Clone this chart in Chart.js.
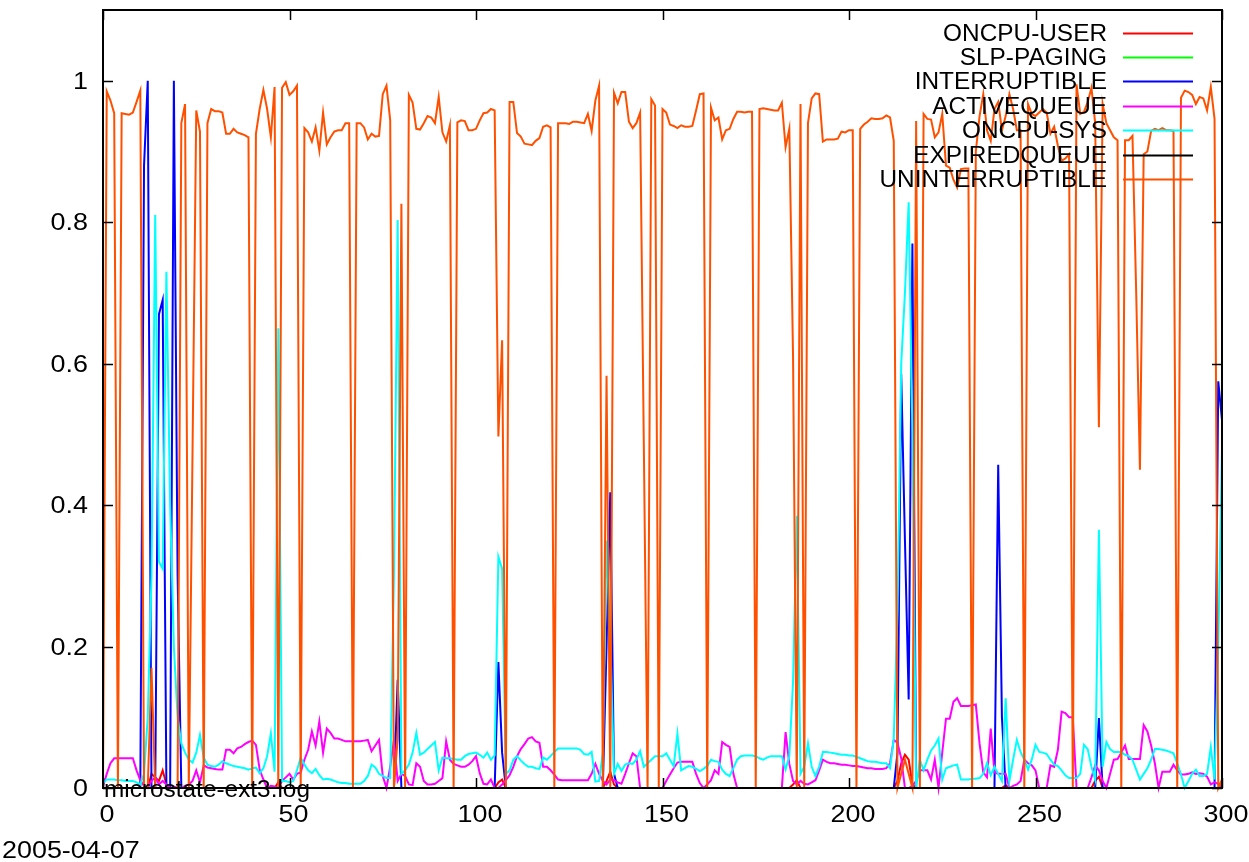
<!DOCTYPE html>
<html>
<head>
<meta charset="utf-8">
<script src="https://cdn.jsdelivr.net/npm/chart.js@4.4.1/dist/chart.umd.min.js"></script>
<style>
html,body{margin:0;padding:0;background:#fff;}
canvas{display:block;}
</style>
</head>
<body>
<canvas id="c" width="1249" height="862"></canvas>
<script>
// ---- data ----
const samples = Array.from({length: 301}, (_, i) => i);
const xTicks = [0, 50, 100, 150, 200, 250, 300];
const yTicks = [0, 0.2, 0.4, 0.6, 0.8, 1];
const yTickLabels = ['0', '0.2', '0.4', '0.6', '0.8', '1'];
const seriesNames = ['ONCPU-USER', 'SLP-PAGING', 'INTERRUPTIBLE', 'ACTIVEQUEUE', 'ONCPU-SYS', 'EXPIREDQUEUE', 'UNINTERRUPTIBLE'];
const seriesColors = ['#ff0000', '#00ff00', '#0000ff', '#ff00ff', '#00ffff', '#000000', '#ff5000'];
const fileLabel = 'microstate-ext3.log';
const dateLabel = '2005-04-07';

const oncpuUser = [
0,0,0,0,0,0,0,0,0,0,0,0,0,0.02,0.015,0.01,0.025,0.005,0,0,
0,0,0,0,0,0,0,0,0,0,0,0,0,0,0,0,0,0,0,0,
0,0,0,0,0,0,0,0.008,0,0,0,0,0,0,0,0,0,0,0,0,
0,0,0,0,0,0,0,0,0,0,0,0,0,0,0,0,0,0,0,0,
0,0,0,0,0,0,0,0,0,0,0,0,0,0,0,0,0,0,0,0,
0,0,0,0,0,0,0.008,0.012,0,0,0,0,0,0,0,0,0,0,0,0,
0,0,0,0,0,0,0,0,0,0,0,0,0,0,0,0.01,0.023,0.005,0,0,
0,0,0,0,0,0,0,0,0,0,0,0,0,0,0,0,0,0,0,0,
0,0,0,0,0,0,0,0,0,0,0,0,0,0,0,0,0,0,0,0,
0,0,0,0,0,0.005,0.011,0,0,0,0,0,0,0,0,0,0,0,0,0,
0,0,0,0,0,0,0,0,0,0,0,0,0,0.01,0.035,0.047,0.04,0.005,0,0,
0,0,0,0,0,0,0,0,0,0,0,0,0,0,0,0,0,0,0,0,
0,0,0.004,0,0,0,0,0,0,0,0,0,0,0,0,0,0,0,0,0,
0,0,0,0,0,0,0.01,0.016,0,0,0,0,0,0,0,0,0,0,0,0,
0,0,0,0,0,0,0,0,0,0,0,0,0,0,0,0,0,0,0,0,
0.01];

const slpPaging = [
0,0,0,0,0,0,0,0,0,0,0,0,0,0,0,0,0,0,0,0,
0,0,0,0,0,0,0,0,0,0,0,0,0,0,0,0,0,0,0,0,
0,0,0,0,0,0,0,0,0,0,0,0,0,0,0,0,0,0,0,0,
0,0,0,0,0,0,0,0,0,0,0,0,0,0,0,0,0,0,0,0,
0,0,0,0,0,0,0,0,0,0,0,0,0,0,0,0,0,0,0,0,
0,0,0,0,0,0,0,0,0,0,0,0,0,0,0,0,0,0,0,0,
0,0,0,0,0,0,0,0,0,0,0,0,0,0,0,0,0,0,0,0,
0,0,0,0,0,0,0,0,0,0,0,0,0,0,0,0,0,0,0,0,
0,0,0,0,0,0,0,0,0,0,0,0,0,0,0,0,0,0,0,0,
0,0,0,0,0,0,0,0,0,0,0,0,0,0,0,0,0,0,0,0,
0,0,0,0,0,0,0,0,0,0,0,0,0,0,0,0,0,0,0,0,
0,0,0,0,0,0,0,0,0,0,0,0,0,0,0,0,0,0,0,0,
0,0,0,0,0,0,0,0,0,0,0,0,0,0,0,0,0,0,0,0,
0,0,0,0,0,0,0,0,0,0,0,0,0,0,0,0,0,0,0,0,
0,0,0,0,0,0,0,0,0,0,0,0,0,0,0,0,0,0,0,0,
0];

const interruptible = [
0,0,0,0,0,0,0,0,0,0,0,0.88,1,0,0,0.67,0.69,0,0,1,
0.3,0,0,0,0,0,0,0,0,0,0,0,0,0,0,0,0,0,0,0,
0,0,0,0,0,0,0,0,0,0,0,0,0,0,0,0,0,0,0,0,
0,0,0,0,0,0,0,0,0,0,0,0,0,0,0,0,0,0,0,0.153,
0,0,0,0,0,0,0,0,0,0,0,0,0,0,0,0,0,0,0,0,
0,0,0,0,0,0,0.178,0.05,0,0,0,0,0,0,0,0,0,0,0,0,
0,0,0,0,0,0,0,0,0,0,0,0,0,0,0,0.2,0.418,0.02,0,0,
0,0,0,0,0,0,0,0,0,0,0,0,0,0,0,0,0,0,0,0,
0,0,0,0,0,0,0,0,0,0,0,0,0,0,0,0,0,0,0,0,
0,0,0,0,0,0,0,0,0,0,0,0,0,0,0,0,0,0,0,0,
0,0,0,0,0,0,0,0,0,0,0,0,0,0.05,0.585,0.35,0.125,0.77,0,0,
0,0,0,0,0,0,0,0,0,0,0,0,0,0,0,0,0,0,0,0,
0.457,0.1,0,0,0,0,0,0,0,0,0,0,0,0,0,0,0,0,0,0,
0,0,0,0,0,0,0,0.099,0,0,0,0,0,0,0,0,0,0,0,0,
0,0,0,0,0,0,0,0,0,0,0,0,0,0,0,0,0,0,0,0.575,
0.52];

const activeQueue = [
0.002,0.02,0.035,0.042,0.042,0.042,0.042,0.042,0.042,0.025,0.011,0.003,0,0.01,0.015,0.005,0.01,0.005,0,0.002,
0,0,0.003,0.005,0.01,0.025,0.008,0.032,0.029,0.028,0.027,0.026,0.026,0.054,0.054,0.049,0.056,0.058,0.062,0.065,
0.067,0.061,0.026,0.012,0,0.003,0.002,0,0.01,0.015,0.02,0.012,0.02,0.022,0.04,0.054,0.08,0.06,0.094,0.05,
0.084,0.078,0.07,0.07,0.068,0.066,0.066,0.066,0.066,0.066,0.067,0.068,0.052,0.06,0.068,0.017,0,0.03,0.068,0.01,
0.02,0.017,0.005,0.004,0.035,0.03,0.01,0.005,0.005,0.006,0.01,0.014,0.066,0.04,0.034,0.032,0.03,0.03,0.033,0.038,
0.045,0.021,0.006,0.005,0.012,0,0,0.005,0.011,0.018,0.03,0.045,0.055,0.062,0.07,0.072,0.066,0.064,0.03,0.03,
0.025,0.019,0.012,0.011,0.011,0.011,0.011,0.011,0.011,0.011,0.011,0.02,0.034,0.02,0.01,0.005,0.012,0.011,0.008,0.006,
0.02,0.035,0.049,0.045,0,0,0,0,0,0,0,0.01,0.019,0.028,0.036,0.037,0.037,0.037,0.037,0.02,
0.007,0,0.005,0.011,0.025,0.02,0.065,0.061,0.058,0.02,0,0,0,0,0,0,0,0,0,0,
0,0,0,0.079,0.034,0.01,0.005,0.01,0.006,0.005,0.008,0.011,0.025,0.04,0.037,0.035,0.035,0.034,0.033,0.033,
0.032,0.031,0.031,0.03,0.029,0.028,0.028,0.027,0.027,0.027,0.028,0.035,0.068,0.064,0.042,0,0,0.003,0.01,0.025,
0.025,0.025,0.012,0.04,0,0.05,0.098,0.098,0.122,0.127,0.116,0.116,0.116,0.117,0.118,0.063,0.022,0.015,0.084,0.022,
0.02,0.02,0.02,0,0.003,0.005,0.01,0.04,0.035,0.032,0.025,0,0,0,0.032,0.03,0.054,0.108,0.106,0.1,
0.1,0,0,0,0,0.015,0.032,0.025,0.01,0,0.02,0.04,0.041,0.05,0.06,0.041,0.041,0.041,0.041,0.089,
0.08,0.06,0.035,0,0.023,0.023,0.023,0.033,0.025,0.019,0.019,0.02,0.022,0.02,0.021,0.02,0.016,0.005,0.008,0.006,
0];

const oncpuSys = [
0.007,0.012,0.012,0.012,0.011,0.011,0.01,0.01,0.01,0.008,0.005,0.02,0.1,0.3,0.81,0.32,0.31,0.73,0.4,0.2,
0.1,0.063,0.05,0.04,0.036,0.05,0.075,0.043,0.033,0.031,0.03,0.033,0.038,0.035,0.033,0.031,0.03,0.029,0.028,0.026,
0.028,0.029,0.021,0.028,0.045,0.077,0.023,0.65,0.01,0.01,0.008,0.01,0.025,0.043,0.033,0.025,0.021,0.027,0.018,0.012,
0.013,0.012,0.01,0.008,0.007,0.007,0.006,0.006,0.006,0.006,0.01,0.017,0.033,0.029,0.02,0.017,0.014,0.014,0.3,0.803,
0.02,0.025,0.033,0.05,0.078,0.047,0.05,0.055,0.06,0.065,0.025,0.043,0.042,0.042,0.041,0.04,0.04,0.045,0.048,0.049,
0.05,0.047,0.043,0.05,0.04,0.046,0.327,0.31,0.02,0.025,0.04,0.045,0.039,0.034,0.03,0.03,0.028,0.027,0.043,0.04,
0.045,0.051,0.056,0.056,0.056,0.056,0.056,0.056,0.054,0.048,0.047,0.051,0.009,0.01,0.05,0.35,0.21,0.02,0.034,0.024,
0.033,0.035,0.034,0.04,0.052,0.03,0.035,0.04,0.045,0.045,0.045,0.049,0.04,0.031,0.077,0.025,0.028,0.031,0.03,0.027,
0.024,0.027,0.031,0.04,0.038,0.037,0.026,0.02,0.017,0.028,0.04,0.045,0.046,0.046,0.046,0.045,0.042,0.04,0.043,0.045,
0.045,0.045,0.045,0.026,0.045,0.15,0.385,0.02,0.03,0.063,0.03,0.017,0.03,0.051,0.051,0.05,0.049,0.048,0.047,0.047,
0.046,0.046,0.044,0.042,0.04,0.038,0.037,0.037,0.036,0.035,0.035,0.028,0.07,0.25,0.6,0.7,0.828,0.5,0,0.04,
0.025,0.04,0.053,0.06,0.07,0.012,0.028,0.03,0.032,0.033,0.012,0.012,0.012,0.013,0.013,0.014,0.02,0.035,0.018,0.03,
0.02,0.01,0.127,0.01,0.04,0.068,0.051,0.04,0.026,0.04,0.061,0.051,0.05,0.048,0.04,0.033,0.031,0.025,0.018,0.014,
0.014,0.014,0.02,0.061,0.055,0.03,0.012,0.365,0.03,0.065,0.055,0.051,0.051,0.051,0.047,0.045,0.04,0.026,0.012,0.02,
0.028,0.04,0.055,0.055,0.054,0.053,0.051,0.049,0.035,0.019,0,0.01,0.02,0.026,0.017,0.017,0.02,0.058,0.012,0.2,
0.48];

const expiredQueue = [
0,0,0,0,0,0,0,0,0,0,0,0,0,0,0,0,0,0,0,0,
0,0,0,0,0,0,0,0,0,0,0,0,0,0,0,0,0,0,0,0,
0,0,0,0,0,0,0,0,0,0,0,0,0,0,0,0,0,0,0,0,
0,0,0,0,0,0,0,0,0,0,0,0,0,0,0,0,0,0,0,0,
0,0,0,0,0,0,0,0,0,0,0,0,0,0,0,0,0,0,0,0,
0,0,0,0,0,0,0,0,0,0,0,0,0,0,0,0,0,0,0,0,
0,0,0,0,0,0,0,0,0,0,0,0,0,0,0,0,0,0,0,0,
0,0,0,0,0,0,0,0,0,0,0,0,0,0,0,0,0,0,0,0,
0,0,0,0,0,0,0,0,0,0,0,0,0,0,0,0,0,0,0,0,
0,0,0,0,0,0,0,0,0,0,0,0,0,0,0,0,0,0,0,0,
0,0,0,0,0,0,0,0,0,0,0,0,0,0,0,0,0,0,0,0,
0,0,0,0,0,0,0,0,0,0,0,0,0,0,0,0,0,0,0,0,
0,0,0,0,0,0,0,0,0,0,0,0,0,0,0,0,0,0,0,0,
0,0,0,0,0,0,0,0,0,0,0,0,0,0,0,0,0,0,0,0,
0,0,0,0,0,0,0,0,0,0,0,0,0,0,0,0,0,0,0,0,
0];

const uninterruptible = [
0,0.985,0.972,0.954,0,0.954,0.953,0.952,0.955,0.97,0.986,0,0,0.17,0,0,0,0,0,0,
0,0.94,0.967,0,0.475,0.958,0.928,0,0.94,0.96,0.957,0.957,0.955,0.925,0.925,0.932,0.927,0.925,0.923,0.92,
0,0.925,0.96,0.987,0.96,0.92,0.991,0,0.99,0.998,0.98,0.985,0.993,0,0.933,0.927,0.914,0.934,0.901,0.955,
0.91,0.92,0.928,0.93,0.93,0.94,0.94,0,0.94,0.94,0.934,0.917,0.925,0.921,0.922,0.981,0.993,0.944,0,0.07,
0.826,0,0.98,0.969,0.932,0.931,0.94,0.95,0.948,0.94,0.977,0.927,0.914,0.937,0,0.941,0.944,0.943,0.93,0.93,
0.932,0.944,0.954,0.955,0.96,0.958,0.497,0.633,0,0.97,0.97,0.926,0.921,0.911,0.91,0.909,0.915,0.919,0.935,0.937,
0.934,0,0.94,0.94,0.94,0.939,0.942,0.942,0.941,0.94,0.953,0.929,0.972,0.993,0,0.583,0,0.983,0.968,0.984,
0.984,0.942,0.933,0.94,0.955,0.483,0,0.974,0.965,0,0.96,0.955,0.938,0.936,0.933,0.937,0.935,0.935,0.936,0.958,
0.981,0.982,0,0.962,0.944,0.948,0.917,0.93,0.932,0.946,0.956,0.956,0.955,0.956,0.956,0,0.96,0.961,0.96,0.959,
0.958,0.958,0.969,0.906,0.932,0.61,0,0.967,0,0.94,0.975,0.982,0.981,0.914,0.917,0.917,0.917,0.918,0.928,0.927,
0.93,0.93,0,0.932,0.938,0.942,0.947,0.946,0.946,0.947,0.951,0.948,0.915,0,0.02,0.04,0.02,0,0.943,0,
0.953,0.946,0.945,0.92,0.927,0.953,0.88,0.877,0.86,0.849,0.875,0.876,0.876,0,0.9,0.95,0.981,0.93,0.915,0.96,
0.97,0.93,0.95,0.981,0.96,0.93,0.93,0,0.967,0.953,0.95,0.955,0.96,0.955,0.925,0.935,0.908,0.887,0.89,0.896,
0,0.995,0.953,0.956,0.97,0.99,0.94,0.51,0.967,0.94,0.93,0.92,0.916,0,0.916,0.916,0.922,0.7,0.45,0.896,
0.9,0.929,0.932,0.93,0.933,0.93,0.93,0.929,0,0.976,0.986,0.984,0.98,0.967,0.977,0.975,0.958,0.991,0.946,0,
0.012];

const seriesData = [oncpuUser, slpPaging, interruptible, activeQueue, oncpuSys, expiredQueue, uninterruptible];

// ---- styling ----
const FONT = '"Liberation Sans", Arial, sans-serif';
const FONT_SIZE = 23;
const NUM_STRETCH = 1.17;   // numeric labels are drawn wider in the original
const WORD_STRETCH = 1.06;

function stretchedText(ctx, text, x, y, align, sx) {
  ctx.save();
  ctx.translate(x, y);
  ctx.scale(sx, 1);
  ctx.textAlign = align;
  ctx.fillText(text, 0, 0);
  ctx.restore();
}

const gnuplotFrame = {
  id: 'gnuplotFrame',
  afterDatasetsDraw(chart) {
    const ctx = chart.ctx;
    const a = chart.chartArea;
    const xs = chart.scales.x, ys = chart.scales.y;
    ctx.save();
    ctx.strokeStyle = '#000';
    ctx.lineWidth = 2;
    ctx.strokeRect(a.left, a.top, a.right - a.left, a.bottom - a.top);
    ctx.lineWidth = 1.5;
    ctx.beginPath();
    xTicks.forEach(v => {
      const px = Math.round(xs.getPixelForValue(v)) + 0.5;
      ctx.moveTo(px, a.bottom); ctx.lineTo(px, a.bottom - 10);
      ctx.moveTo(px, a.top); ctx.lineTo(px, a.top + 10);
    });
    yTicks.forEach(v => {
      const py = Math.round(ys.getPixelForValue(v)) + 0.5;
      ctx.moveTo(a.left, py); ctx.lineTo(a.left + 10, py);
      ctx.moveTo(a.right, py); ctx.lineTo(a.right - 10, py);
    });
    ctx.stroke();

    ctx.fillStyle = '#000';
    ctx.font = FONT_SIZE + 'px ' + FONT;
    ctx.textBaseline = 'alphabetic';
    xTicks.forEach(v => {
      stretchedText(ctx, String(v), xs.getPixelForValue(v) + 4, a.bottom + 34, 'center', NUM_STRETCH);
    });
    yTicks.forEach((v, i) => {
      stretchedText(ctx, yTickLabels[i], a.left - 15, ys.getPixelForValue(v) + 8, 'right', NUM_STRETCH);
    });
    stretchedText(ctx, fileLabel, a.left + 1, a.bottom + 9, 'left', WORD_STRETCH);
    stretchedText(ctx, dateLabel, 2, a.bottom + 70, 'left', NUM_STRETCH);

    // key
    const textRight = 1107, sx0 = 1123, sx1 = 1193;
    seriesNames.forEach((name, i) => {
      const cy = 32.5 + i * 24.4;
      ctx.fillStyle = '#000';
      stretchedText(ctx, name, textRight, cy + 8, 'right', WORD_STRETCH);
      ctx.strokeStyle = seriesColors[i];
      ctx.lineWidth = 2;
      ctx.beginPath();
      ctx.moveTo(sx0, Math.round(cy) + 0.5);
      ctx.lineTo(sx1, Math.round(cy) + 0.5);
      ctx.stroke();
    });
    ctx.restore();
  }
};

const drawOrder = [7, 6, 5, 4, 3, 2, 1];

new Chart(document.getElementById('c'), {
  type: 'line',
  data: {
    labels: samples,
    datasets: seriesNames.map((name, i) => ({
      label: name,
      data: seriesData[i],
      borderColor: seriesColors[i],
      backgroundColor: seriesColors[i],
      borderWidth: 2,
      pointRadius: 0,
      tension: 0,
      fill: false,
      clip: false,
      order: drawOrder[i]
    }))
  },
  options: {
    responsive: false,
    devicePixelRatio: 1,
    animation: false,
    layout: { padding: { left: 103, right: 27, top: 10, bottom: 74 } },
    plugins: { legend: { display: false }, tooltip: { enabled: false }, title: { display: false } },
    scales: {
      x: { type: 'linear', min: 0, max: 300, display: false },
      y: { type: 'linear', min: 0, max: 1.1, display: false }
    }
  },
  plugins: [gnuplotFrame]
});
</script>
</body>
</html>
